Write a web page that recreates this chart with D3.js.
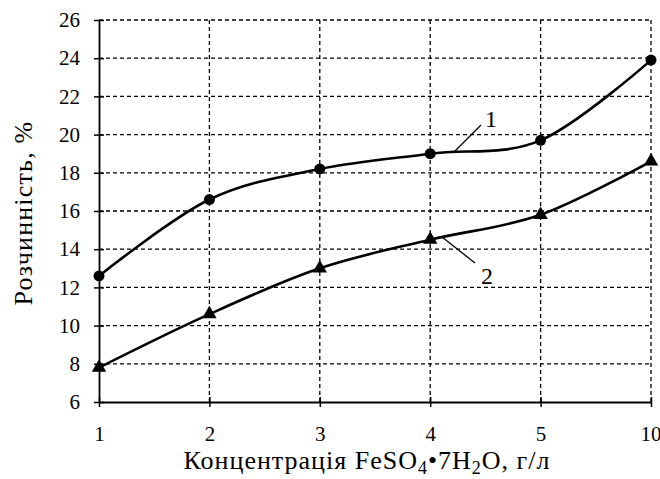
<!DOCTYPE html>
<html><head><meta charset="utf-8">
<script src="https://cdn.jsdelivr.net/npm/d3@7"></script>
<style>body{margin:0;background:#fff}svg{display:block}
svg text{font-family:"Liberation Serif","Times New Roman",serif;fill:#000}</style>
</head><body><div id="chart"></div>
<script>
// concentration categories (g/l) and solubility series (%)
const conc = ['1','2','3','4','5','10'];
const series1 = [12.6, 16.6, 18.2, 19.0, 19.7, 23.9];
const series2 = [7.8, 10.6, 13.0, 14.5, 15.8, 18.6];
const yTicks = [6,8,10,12,14,16,18,20,22,24,26];

const W=660, H=479, m={t:20,r:9,b:77,l:99};
const svg=d3.select('#chart').append('svg').attr('width',W).attr('height',H);
const g=svg.append('g').attr('transform',`translate(${m.l},${m.t})`);
const iw=W-m.l-m.r, ih=H-m.t-m.b;
const x=d3.scalePoint().domain(conc).range([0,iw]);
const y=d3.scaleLinear().domain([6,26]).range([ih,0]);

// dashed grid
g.selectAll('.hg').data(yTicks.filter(t=>t>6)).join('line')
  .attr('x1',0).attr('x2',iw).attr('y1',d=>y(d)).attr('y2',d=>y(d))
  .attr('stroke','#000').attr('stroke-width',1.3).attr('stroke-dasharray','4 3');
g.selectAll('.vg').data(conc.slice(1)).join('line')
  .attr('x1',d=>x(d)).attr('x2',d=>x(d)).attr('y1',0).attr('y2',ih)
  .attr('stroke','#000').attr('stroke-width',1.3).attr('stroke-dasharray','4 3');

// axes
const ya=g.append('g').call(d3.axisLeft(y).tickValues(yTicks).tickSizeInner(5).tickSizeOuter(0).tickPadding(14));
ya.selectAll('.tick line').attr('x2',5).attr('x1',-5).attr('stroke-width',1.5);
ya.select('.domain').attr('stroke-width',1.8);
const xa=g.append('g').attr('transform',`translate(0,${ih})`).call(d3.axisBottom(x).tickSizeInner(5).tickSizeOuter(0).tickPadding(19));
xa.selectAll('.tick line').attr('y1',-5).attr('y2',5).attr('stroke-width',1.5);
xa.select('.domain').attr('stroke-width',1.8);
[ya,xa].forEach(a=>a.attr('font-size',null).attr('font-family',null));
g.selectAll('.tick text').style('font-size','21px');
xa.selectAll('.tick text').filter(d=>d==='10').attr('text-anchor','end').attr('x',10);

// lines
const line=d3.line().x((d,i)=>x(conc[i])).y(d=>y(d)).curve(d3.curveCardinal.tension(0));
[series1,series2].forEach(s=>g.append('path').datum(s).attr('d',line)
  .attr('fill','none').attr('stroke','#000').attr('stroke-width',2.6));
g.selectAll('.p1').data(series1).join('circle')
  .attr('cx',(d,i)=>x(conc[i])).attr('cy',d=>y(d)).attr('r',5.5).attr('fill','#000');
const tri=d3.symbol().type(d3.symbolTriangle).size(90);
g.selectAll('.p2').data(series2).join('path').attr('d',tri)
  .attr('transform',(d,i)=>`translate(${x(conc[i])},${y(d)})`).attr('fill','#000');

// curve labels with leaders
const lab=(x1,y1,x2,y2,tx,ty,t)=>{
  svg.append('line').attr('x1',x1).attr('y1',y1).attr('x2',x2).attr('y2',y2).attr('stroke','#000').attr('stroke-width',1.3);
  svg.append('text').attr('x',tx).attr('y',ty).style('font-size','24px').attr('text-anchor','middle').text(t);
};
lab(455,151,481,125,491,127,'1');
lab(442,237,475,263,487,284,'2');

// axis titles
svg.append('text').attr('transform','translate(32,213) rotate(-90)').attr('text-anchor','middle')
  .style('font-size','26px').style('letter-spacing','1.2px').text('Розчинність, %');
const xt=svg.append('text').attr('x',367).attr('y',469).attr('text-anchor','middle')
  .style('font-size','26px').style('letter-spacing','1px');
xt.append('tspan').text('Концентрація FeSO');
xt.append('tspan').attr('dy',5).style('font-size','18px').text('4');
xt.append('tspan').attr('dy',-5).text('•7H');
xt.append('tspan').attr('dy',5).style('font-size','18px').text('2');
xt.append('tspan').attr('dy',-5).text('O, г/л');
</script></body></html>
